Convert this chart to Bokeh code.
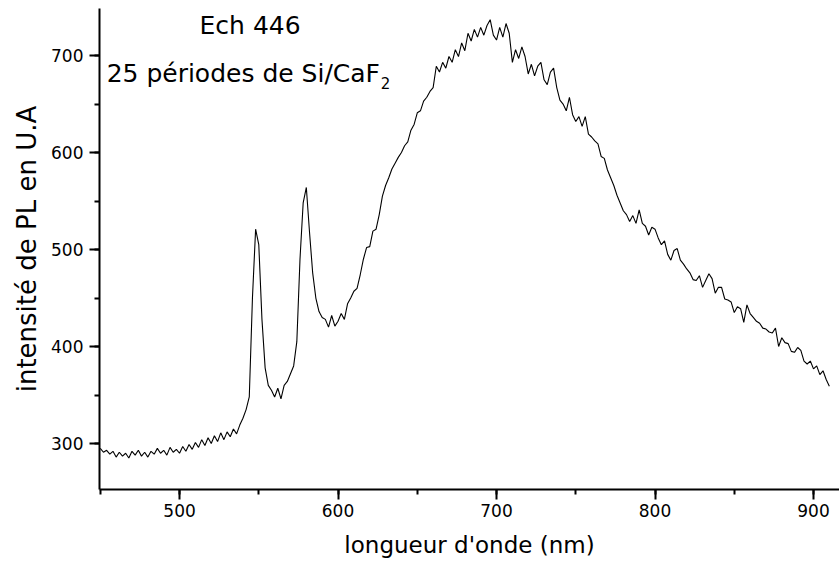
from bokeh.plotting import figure
from bokeh.embed import file_html
from bokeh.resources import INLINE
from bokeh.models import SingleIntervalTicker, Range1d, Label

# wavelength (nm), 2 nm step
wavelength = list(range(450, 912, 2))

intensity = [
    295, 291, 293, 289, 292, 286, 291, 287, 290, 285,   # 450-468
    292, 288, 293, 287, 291, 286, 292, 289, 295, 290,   # 470-488
    293, 288, 296, 291, 294, 290, 297, 292, 299, 294,   # 490-508
    301, 296, 304, 298, 306, 300, 308, 302, 311, 304,   # 510-528
    312, 307, 315, 310, 319, 326, 335, 348, 450, 521,   # 530-548
    505, 428, 378, 360, 355, 348, 357, 346, 360, 364,   # 550-568
    372, 380, 405, 490, 548, 564, 518, 476, 450, 436,   # 570-588
    430, 428, 420, 432, 421, 426, 434, 428, 444, 450,   # 590-608
    457, 460, 474, 490, 502, 503, 519, 521, 536, 555,   # 610-628
    566, 574, 583, 589, 595, 600, 607, 611, 623, 629,   # 630-648
    641, 643, 653, 657, 663, 667, 689, 683, 693, 687,   # 650-668
    699, 693, 706, 699, 713, 705, 723, 715, 727, 719,   # 670-688
    729, 721, 731, 737, 721, 716, 729, 719, 733, 723,   # 690-708
    693, 706, 697, 709, 699, 681, 691, 679, 689, 693,   # 710-728
    675, 670, 683, 687, 667, 654, 650, 643, 657, 639,   # 730-748
    632, 637, 627, 637, 619, 616, 612, 609, 596, 594,   # 750-768
    582, 574, 566, 556, 548, 540, 536, 529, 535, 527,   # 770-788
    541, 527, 524, 515, 523, 521, 512, 505, 509, 495,   # 790-808
    489, 499, 501, 489, 485, 480, 476, 469, 468, 473,   # 810-828
    461, 468, 475, 470, 455, 461, 461, 449, 448, 446,   # 830-848
    435, 441, 439, 425, 443, 434, 430, 426, 424, 419,   # 850-868
    418, 415, 414, 419, 400, 409, 404, 403, 395, 394,   # 870-888
    399, 396, 385, 382, 385, 377, 380, 371, 375, 366,   # 890-908
    359,                                                # 910
]

x_title = "longueur d'onde (nm)"
y_title = "intensité de PL en U.A"
title_line1 = "Ech 446"
title_line2 = "25 périodes de Si/CaF"
title_sub = "2"

FONT = "DejaVu Sans"

p = figure(width=839, height=569, output_backend="svg", toolbar_location=None,
           x_range=Range1d(449.5, 916.4), y_range=Range1d(252.6, 748.5),
           min_border_left=99, min_border_right=0, min_border_top=8,
           min_border_bottom=80)
p.outline_line_color = None
p.xgrid.visible = False
p.ygrid.visible = False
p.background_fill_color = "white"
p.border_fill_color = "white"

p.line(wavelength, intensity, line_color="black", line_width=1.1)

for ax in (p.xaxis[0], p.yaxis[0]):
    ax.axis_line_color = "black"
    ax.axis_line_width = 2
    ax.major_tick_line_color = "black"
    ax.major_tick_line_width = 2
    ax.minor_tick_line_color = "black"
    ax.minor_tick_line_width = 2
    ax.major_tick_in = 0
    ax.major_tick_out = 10
    ax.minor_tick_in = 0
    ax.minor_tick_out = 5
    ax.major_label_text_font = FONT
    ax.major_label_text_font_size = "17px"
    ax.major_label_text_color = "black"
    ax.axis_label_text_font = FONT
    ax.axis_label_text_font_style = "normal"
    ax.axis_label_text_color = "black"

p.xaxis.ticker = SingleIntervalTicker(interval=100, num_minor_ticks=2)
p.yaxis.ticker = SingleIntervalTicker(interval=100, num_minor_ticks=2)
p.xaxis.axis_label = x_title
p.yaxis.axis_label = y_title
p.xaxis.axis_label_text_font_size = "23px"
p.yaxis.axis_label_text_font_size = "26px"
p.xaxis.major_label_standoff = 4
p.yaxis.major_label_standoff = 6
p.xaxis.axis_label_standoff = 12
p.yaxis.axis_label_standoff = 6

p.add_layout(Label(x=544.5, y=731, text=title_line1, text_font=FONT,
                   text_font_size="25px", text_align="center",
                   text_baseline="middle", text_color="black"))
p.add_layout(Label(x=454, y=681, text=title_line2, text_font=FONT,
                   text_font_size="25px", text_align="left",
                   text_baseline="middle", text_color="black"))
p.add_layout(Label(x=627, y=672, text=title_sub, text_font=FONT,
                   text_font_size="15px", text_align="left",
                   text_baseline="middle", text_color="black"))

open("out.html", "w").write(file_html(p, INLINE))
